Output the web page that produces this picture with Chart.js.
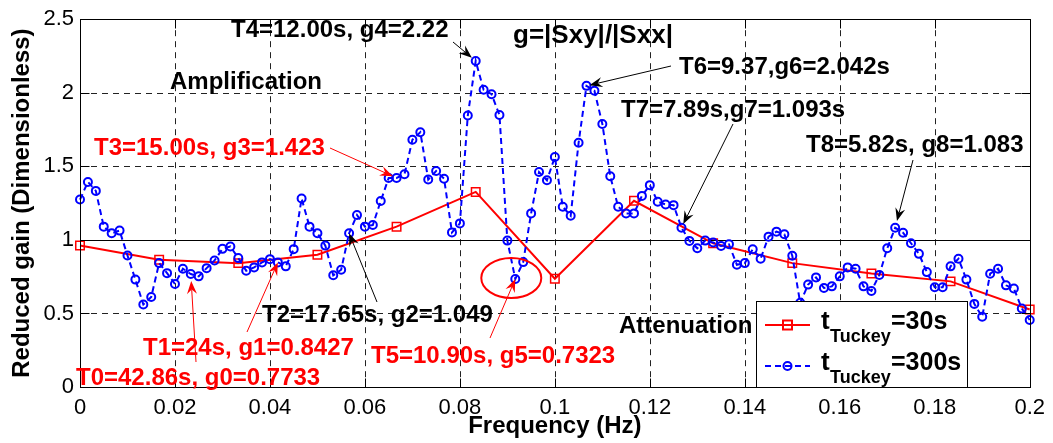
<!DOCTYPE html>
<html>
<head>
<meta charset="utf-8">
<script src="https://cdn.jsdelivr.net/npm/chart.js@4.4.1/dist/chart.umd.min.js"></script>
<style>
  html, body { margin: 0; padding: 0; background: #fff; }
  canvas { display: block; }
</style>
</head>
<body>
<canvas id="gainChart" width="1053" height="443"></canvas>
<script>
const FONT = '"Liberation Sans", Arial, Helvetica, sans-serif';

// frequency spacing of the two estimates (Hz)
const stepHz300 = 1 / 600;
const stepHz30 = 1 / 60;

// t_Tuckey = 300s, reduced gain
const gain300 = [
  1.274, 1.394, 1.333, 1.090, 1.045, 1.063, 0.894, 0.730, 0.561, 0.612,
  0.842, 0.774, 0.700, 0.804, 0.768, 0.752, 0.808, 0.860, 0.939, 0.955,
  0.876, 0.790, 0.813, 0.847, 0.869, 0.847, 0.820, 0.937, 1.281, 1.090,
  1.045, 0.961, 0.759, 0.797, 1.045, 1.169, 1.090, 1.101, 1.264, 1.421,
  1.421, 1.446, 1.680, 1.732, 1.410, 1.468, 1.416, 1.051, 1.112, 1.845,
  2.216, 2.020, 1.990, 1.849, 0.995, 0.734, 0.849, 1.180, 1.461, 1.405,
  1.563, 1.225, 1.164, 1.660, 2.047, 2.014, 1.788, 1.432, 1.225, 1.180,
  1.180, 1.299, 1.372, 1.259, 1.241, 1.236, 1.083, 0.993, 0.943, 0.995,
  0.982, 0.958, 0.970, 0.831, 0.842, 0.936, 0.872, 1.022, 1.056, 1.038,
  0.892, 0.572, 0.696, 0.745, 0.673, 0.684, 0.752, 0.813, 0.804, 0.684,
  0.653, 0.762, 0.943, 1.082, 1.049, 0.977, 0.905, 0.781, 0.678, 0.678,
  0.820, 0.872, 0.730, 0.565, 0.477, 0.770, 0.804, 0.691, 0.669, 0.534,
  0.455
];

// t_Tuckey = 30s, reduced gain
const gain30 = [0.962, 0.865, 0.842, 0.899, 1.090, 1.326, 0.736, 1.266, 0.977, 0.842, 0.772, 0.718, 0.527];

const xTickVals = [0, 0.02, 0.04, 0.06, 0.08, 0.1, 0.12, 0.14, 0.16, 0.18, 0.2];
const yTickVals = [0, 0.5, 1, 1.5, 2, 2.5];

// text notes: [text, left, baseline, colour, size]
const notes = [
  ['T4=12.00s, g4=2.22', 231, 37, '#000', 24],
  ['g=|Sxy|/|Sxx|', 513, 43, '#000', 26],
  ['Amplification', 170, 89, '#000', 24],
  ['T6=9.37,g6=2.042s', 679, 74, '#000', 24],
  ['T7=7.89s,g7=1.093s', 621, 117, '#000', 24],
  ['T8=5.82s, g8=1.083', 806, 152, '#000', 24],
  ['T3=15.00s, g3=1.423', 94, 155, '#f00', 24],
  ['T2=17.65s, g2=1.049', 262, 322, '#000', 24],
  ['Attenuation', 619, 333, '#000', 24],
  ['T1=24s, g1=0.8427', 143, 355, '#f00', 24],
  ['T5=10.90s, g5=0.7323', 371, 363, '#f00', 24],
  ['T0=42.86s, g0=0.7733', 76, 385, '#f00', 24]
];

// arrows point at a sample of the 300s curve: [index, tailX, tailY, gap, colour]
const pointers = [
  [50, 453, 42, 5, '#000'],
  [64, 671, 66, 3, '#000'],
  [76, 733, 124, 4, '#000'],
  [103, 913, 160, 7, '#000'],
  [40, 330, 148, 4, '#f00'],
  [34, 377, 302, 0, '#000'],
  [25, 247, 332, 0, '#f00'],
  [14, 196, 362, 7, '#f00'],
  [55, 490, 338, 0, '#f00']
];

function arrow(ctx, x1, y1, x2, y2, color) {
  const a = Math.atan2(y2 - y1, x2 - x1);
  const L = 13, W = 5;
  const cx = Math.cos(a), sy = Math.sin(a);
  const nx = x2 - cx * L * 0.65, ny = y2 - sy * L * 0.65;
  ctx.strokeStyle = color;
  ctx.fillStyle = color;
  ctx.lineWidth = 1;
  ctx.beginPath();
  ctx.moveTo(x1, y1);
  ctx.lineTo(nx, ny);
  ctx.stroke();
  const bx = x2 - cx * L, by = y2 - sy * L;
  ctx.beginPath();
  ctx.moveTo(x2, y2);
  ctx.lineTo(bx - sy * W, by + cx * W);
  ctx.lineTo(nx, ny);
  ctx.lineTo(bx + sy * W, by - cx * W);
  ctx.closePath();
  ctx.fill();
}

const decor = {
  id: 'decor',
  beforeDatasetsDraw(chart) {
    const { ctx, chartArea: a, scales: { x, y } } = chart;
    ctx.save();
    ctx.strokeStyle = '#222';
    ctx.lineWidth = 1;
    ctx.setLineDash([6, 5]);
    xTickVals.forEach(v => {
      if (v <= 0 || v >= 0.2) return;
      const px = Math.round(x.getPixelForValue(v)) + 0.5;
      ctx.beginPath(); ctx.moveTo(px, a.top); ctx.lineTo(px, a.bottom); ctx.stroke();
    });
    yTickVals.forEach(v => {
      if (v <= 0 || v >= 2.5 || v === 1) return;
      const py = Math.round(y.getPixelForValue(v)) + 0.5;
      ctx.beginPath(); ctx.moveTo(a.left, py); ctx.lineTo(a.right, py); ctx.stroke();
    });
    ctx.setLineDash([]);
    ctx.strokeStyle = '#000';
    const p1 = Math.round(y.getPixelForValue(1)) + 0.5;
    ctx.beginPath(); ctx.moveTo(a.left, p1); ctx.lineTo(a.right, p1); ctx.stroke();
    ctx.restore();
  },
  afterDatasetsDraw(chart) {
    const { ctx, chartArea: a, scales: { x, y } } = chart;
    ctx.save();
    // frame + inward ticks
    ctx.strokeStyle = '#000';
    ctx.lineWidth = 1;
    const L = Math.round(a.left) + 0.5, R = Math.round(a.right) + 0.5;
    const T = Math.round(a.top) + 0.5, B = Math.round(a.bottom) + 0.5;
    ctx.strokeRect(L, T, R - L, B - T);
    ctx.beginPath();
    xTickVals.forEach(v => {
      const px = Math.round(x.getPixelForValue(v)) + 0.5;
      ctx.moveTo(px, B); ctx.lineTo(px, B - 9);
      ctx.moveTo(px, T); ctx.lineTo(px, T + 9);
    });
    yTickVals.forEach(v => {
      const py = Math.round(y.getPixelForValue(v)) + 0.5;
      ctx.moveTo(L, py); ctx.lineTo(L + 9, py);
      ctx.moveTo(R, py); ctx.lineTo(R - 9, py);
    });
    ctx.stroke();

    // ellipse round g5
    const e = chart.getDatasetMeta(0).data[55];
    ctx.strokeStyle = '#f00';
    ctx.lineWidth = 2;
    ctx.beginPath();
    ctx.ellipse(e.x - 4, e.y - 1, 30, 20, 0, 0, Math.PI * 2);
    ctx.stroke();

    // arrows
    const pts = chart.getDatasetMeta(0).data;
    pointers.forEach(([k, tx, ty, gap, col]) => {
      const p = pts[k];
      const d = Math.hypot(tx - p.x, ty - p.y);
      const hx = p.x + (tx - p.x) / d * gap, hy = p.y + (ty - p.y) / d * gap;
      arrow(ctx, tx, ty, hx, hy, col);
    });

    // notes
    ctx.textBaseline = 'alphabetic';
    ctx.textAlign = 'left';
    notes.forEach(([t, nx, ny, col, sz]) => {
      ctx.font = `bold ${sz}px ${FONT}`;
      ctx.fillStyle = col;
      ctx.fillText(t, nx, ny);
    });

    // axis titles
    ctx.fillStyle = '#000';
    ctx.font = `bold 24px ${FONT}`;
    ctx.textAlign = 'center';
    ctx.fillText('Frequency (Hz)', (a.left + a.right) / 2, 433);
    ctx.save();
    ctx.translate(29, (a.top + a.bottom) / 2);
    ctx.rotate(-Math.PI / 2);
    ctx.fillText('Reduced gain (Dimensionless)', 0, 0);
    ctx.restore();

    // legend
    ctx.fillStyle = '#fff';
    ctx.fillRect(756, 301, 212, 87);
    ctx.strokeStyle = '#000';
    ctx.lineWidth = 1;
    ctx.strokeRect(756.5, 301.5, 211, 86);
    const rows = [
      { y: 325, col: '#f00', dash: [], mark: 'rect', txt: '=30s' },
      { y: 366, col: '#00f', dash: [6, 4], mark: 'circle', txt: '=300s' }
    ];
    rows.forEach(r => {
      ctx.strokeStyle = r.col;
      ctx.lineWidth = 2;
      ctx.setLineDash(r.dash);
      ctx.beginPath(); ctx.moveTo(765, r.y); ctx.lineTo(810, r.y); ctx.stroke();
      ctx.setLineDash([]);
      ctx.beginPath();
      if (r.mark === 'rect') ctx.rect(783, r.y - 4.5, 9, 9);
      else ctx.arc(787.5, r.y, 4, 0, Math.PI * 2);
      ctx.stroke();
      ctx.fillStyle = '#000';
      ctx.textAlign = 'left';
      ctx.font = `bold 26px ${FONT}`;
      ctx.fillText('t', 821, r.y + 4);
      ctx.font = `bold 18px ${FONT}`;
      ctx.fillText('Tuckey', 830, r.y + 17);
      ctx.font = `bold 25px ${FONT}`;
      ctx.fillText(r.txt, 891, r.y + 4);
    });
    ctx.restore();
  }
};

new Chart(document.getElementById('gainChart'), {
  type: 'line',
  data: {
    datasets: [
      {
        label: 't_Tuckey=300s',
        data: gain300.map((g, i) => ({ x: i * stepHz300, y: g })),
        borderColor: '#0000ff',
        borderWidth: 2,
        borderDash: [6, 4],
        pointStyle: 'circle',
        pointRadius: 4,
        pointBorderWidth: 2,
        pointBorderColor: '#0000ff',
        pointBackgroundColor: 'rgba(0,0,0,0)',
        tension: 0,
        clip: false,
        order: 0
      },
      {
        label: 't_Tuckey=30s',
        data: gain30.map((g, i) => ({ x: i * stepHz30, y: g })),
        borderColor: '#ff0000',
        borderWidth: 2,
        pointStyle: 'rect',
        pointRadius: 6,
        pointBorderWidth: 1.5,
        pointBorderColor: '#ff0000',
        pointBackgroundColor: 'rgba(0,0,0,0)',
        tension: 0,
        clip: false,
        order: 1
      }
    ]
  },
  options: {
    responsive: false,
    animation: false,
    devicePixelRatio: 1,
    events: [],
    layout: { padding: { top: 17, right: 21, left: 0, bottom: 0 } },
    plugins: { legend: { display: false }, tooltip: { enabled: false } },
    scales: {
      x: {
        type: 'linear', min: 0, max: 0.2,
        afterBuildTicks: s => { s.ticks = xTickVals.map(v => ({ value: v })); },
        afterFit: s => { s.height = 56; },
        grid: { display: false, drawTicks: false },
        border: { display: false },
        ticks: {
          color: '#000', padding: 8, maxRotation: 0, autoSkip: false,
          font: { family: FONT, size: 22 },
          callback: v => String(Number(v.toFixed(2)))
        }
      },
      y: {
        type: 'linear', min: 0, max: 2.5,
        afterBuildTicks: s => { s.ticks = yTickVals.map(v => ({ value: v })); },
        afterFit: s => { s.width = 80; },
        grid: { display: false, drawTicks: false },
        border: { display: false },
        ticks: {
          color: '#000', padding: 6, autoSkip: false,
          font: { family: FONT, size: 22 },
          callback: v => String(v)
        }
      }
    }
  },
  plugins: [decor]
});
</script>
</body>
</html>
